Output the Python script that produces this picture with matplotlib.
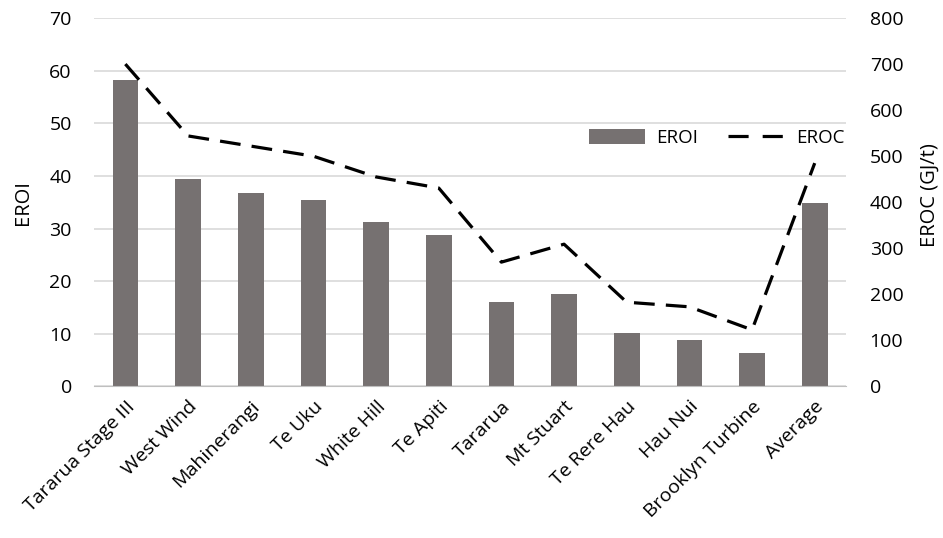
import matplotlib.pyplot as plt
from matplotlib.lines import Line2D
import numpy as np

plt.rcParams['font.family'] = ['Open Sans', 'DejaVu Sans']

farms = ['Tararua Stage III', 'West Wind', 'Mahinerangi', 'Te Uku', 'White Hill',
         'Te Apiti', 'Tararua', 'Mt Stuart', 'Te Rere Hau', 'Hau Nui',
         'Brooklyn Turbine', 'Average']
eroi = [58.3, 39.4, 36.7, 35.4, 31.2, 28.8, 16.1, 17.6, 10.1, 8.8, 6.4, 34.9]
eroc = [700, 544, 522, 500, 455, 431, 270, 309, 183, 173, 123, 485]

fig = plt.figure(figsize=(9.43, 5.38), dpi=100)
ax = fig.add_axes([0.0997, 0.2816, 0.7975, 0.6849])
ax2 = ax.twinx()

x = np.arange(len(farms))
bars = ax.bar(x, eroi, width=0.41, color='#767171', label='EROI', zorder=2)
ax2.plot(x, eroc, color='black', lw=2.3, dashes=(6.5, 3.5), label='EROC')

ax.set_ylim(0, 70)
ax.set_yticks(range(0, 71, 10))
ax2.set_ylim(0, 800)
ax2.set_yticks(range(0, 801, 100))
ax.set_xlim(-0.5, len(farms) - 0.5)
ax.grid(axis='y', color='#d9d9d9', lw=1.2, zorder=0)
ax.set_axisbelow(True)

for a in (ax, ax2):
    for s in ('top', 'left', 'right'):
        a.spines[s].set_visible(False)
    a.tick_params(length=0, labelsize=14, colors='black')
ax2.spines['bottom'].set_visible(False)
ax.spines['bottom'].set_color('#bfbfbf')
ax.tick_params(axis='y', pad=16)
ax2.tick_params(axis='y', pad=17)

ax.set_xticks(x)
ax.set_xticklabels(farms, rotation=45, ha='right', rotation_mode='anchor')
ax.tick_params(axis='x', pad=8, labelsize=14)

ax.set_ylabel('EROI', fontsize=14.5)
ax.yaxis.set_label_coords(-0.081, 0.5)
ax2.set_ylabel('EROC (GJ/t)', fontsize=14.5)
ax2.yaxis.set_label_coords(1.098, 0.52)

# legend key for the line: two long dashes
eroc_key = Line2D([], [], color='black', lw=2.3, dashes=(6.3, 4.4))
ax2.legend([bars, eroc_key], ['EROI', 'EROC'], loc='upper right',
           bbox_to_anchor=(1.02, 0.745), ncol=2, frameon=False, fontsize=13.5,
           handlelength=3.0, handleheight=0.8, handletextpad=0.6,
           columnspacing=1.6)

fig.savefig('out.png')
